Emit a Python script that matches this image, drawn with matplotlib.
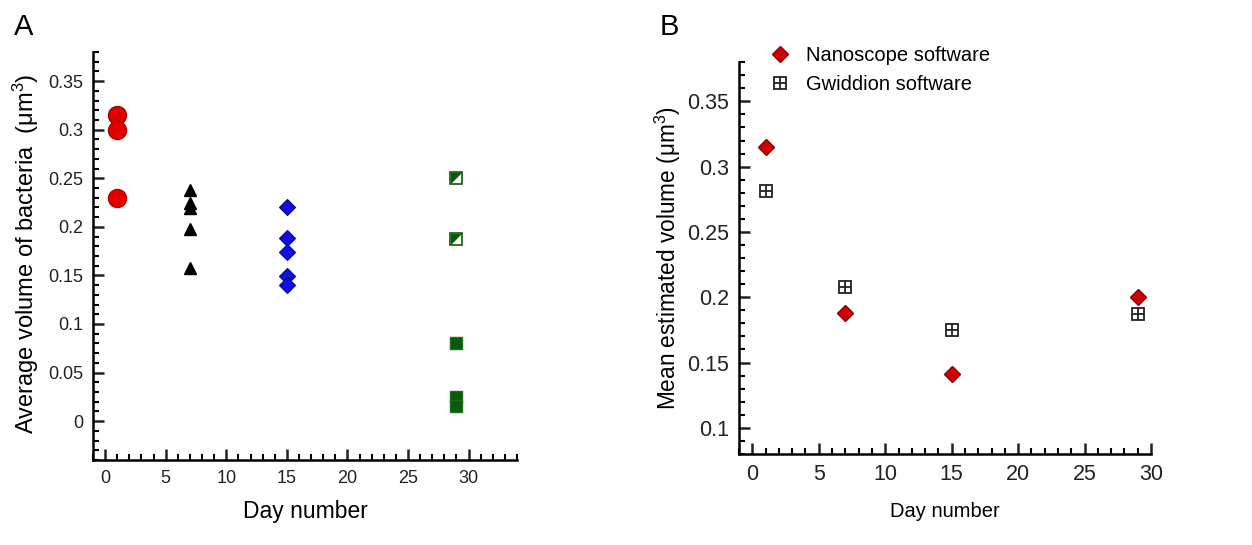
import numpy as np
import matplotlib
matplotlib.use('Agg')
import matplotlib.pyplot as plt
from matplotlib.ticker import MultipleLocator, FuncFormatter

plt.rcParams['font.family'] = ['Liberation Sans', 'DejaVu Sans']
plt.rcParams['mathtext.fontset'] = 'custom'
plt.rcParams['mathtext.rm'] = 'Liberation Sans'
plt.rcParams['mathtext.it'] = 'Liberation Sans'

# Panel A: individual volumes per day
day1 = [1, 1, 1]
vol_day1 = [0.315, 0.300, 0.230]
day7 = [7, 7, 7, 7, 7]
vol_day7 = [0.238, 0.225, 0.219, 0.198, 0.158]
day15 = [15, 15, 15, 15, 15]
vol_day15 = [0.220, 0.189, 0.174, 0.149, 0.140]
day29_half = [29, 29]
vol_day29_half = [0.250, 0.188]
day29_full = [29, 29, 29]
vol_day29_full = [0.080, 0.025, 0.016]

# Panel B: mean volumes per software
days_b = [1, 7, 15, 29]
nanoscope = [0.315, 0.188, 0.141, 0.200]
gwiddion = [0.281, 0.208, 0.175, 0.187]

fmt = FuncFormatter(lambda v, p: '%g' % round(v, 3))


def style_axis(ax, ylo, yhi, xlo, xhi, ymaj, lsize, tlen):
    ax.set_xlim(xlo, xhi)
    ax.set_ylim(ylo, yhi)
    for s in ['top', 'right']:
        ax.spines[s].set_visible(False)
    for s in ['left', 'bottom']:
        ax.spines[s].set_linewidth(1.8)
    ax.xaxis.set_major_locator(MultipleLocator(5))
    ax.xaxis.set_minor_locator(MultipleLocator(1))
    ax.yaxis.set_major_locator(MultipleLocator(ymaj))
    ax.yaxis.set_minor_locator(MultipleLocator(0.01))
    ax.yaxis.set_major_formatter(fmt)
    ax.tick_params(which='major', direction='in', length=tlen, width=1.8,
                   labelsize=lsize, pad=7, colors='#222222')
    ax.tick_params(which='minor', direction='in', length=tlen / 2, width=1.5)


fig = plt.figure(figsize=(12.52, 5.45), dpi=100)

# ---- Panel A
axA = fig.add_axes([0.0743, 0.156, 0.3387, 0.7486])
axA.plot(day1, vol_day1, 'o', ms=13, color='#e00000', mec='#b00000', mew=1)
axA.plot(day7, vol_day7, '^', ms=9, color='black')
axA.plot(day15, vol_day15, 'D', ms=8, color='#1010e0', mec='#0000a0', mew=0.8)
axA.plot(day29_half, vol_day29_half, 's', ms=8, mfc='white', mec='#0b5a0b', mew=1.2)
axA.plot(day29_half, vol_day29_half, marker=[(-1, 1), (1, 1), (-1, -1)], ls='none',
         ms=8, color='#0b5a0b', mew=0)
axA.plot(day29_full, vol_day29_full, 's', ms=8, color='#0b5a0b', mec='#1f6f1f', mew=1)
style_axis(axA, -0.04, 0.38, -1, 34, 0.05, 13, 8)
axA.xaxis.set_major_locator(plt.FixedLocator([0, 5, 10, 15, 20, 25, 30]))
axA.set_xlabel('Day number', fontsize=16.5)
axA.set_ylabel('Average volume of bacteria  (μm$^{3}$)', fontsize=17)
axA.xaxis.set_label_coords(0.5, -0.098)
axA.yaxis.set_label_coords(-0.122, 0.505)
fig.text(0.011, 0.95, 'A', fontsize=21, va='center')

# ---- Panel B
axB = fig.add_axes([0.5903, 0.167, 0.329, 0.719])
hn, = axB.plot(days_b, nanoscope, 'D', ms=8.5, color='#d00000', mec='#8a0000', mew=1)
hg1, = axB.plot(days_b, gwiddion, 's', ms=8, mfc='white', mec='#222222', mew=1.3)
hg2, = axB.plot(days_b, gwiddion, '+', ms=8, color='#222222', mew=1.3)
style_axis(axB, 0.08, 0.38, -1, 30, 0.05, 15.5, 8)
axB.set_xlabel('Day number', fontsize=14.5)
axB.set_ylabel('Mean estimated volume (μm$^{3}$)', fontsize=16.3)
axB.xaxis.set_label_coords(0.5, -0.122)
axB.yaxis.set_label_coords(-0.136, 0.5)
axB.legend([hn, (hg1, hg2)], ['Nanoscope software', 'Gwiddion software'],
           loc='upper left', bbox_to_anchor=(770 / 1252, 1 - 46 / 545),
           bbox_transform=fig.transFigure, frameon=False, fontsize=14.5,
           handlelength=1.0, handletextpad=0.8, borderpad=0, borderaxespad=0,
           labelspacing=0.5)
fig.text(0.527, 0.95, 'B', fontsize=21, va='center')

fig.savefig('out.png', dpi=100)
